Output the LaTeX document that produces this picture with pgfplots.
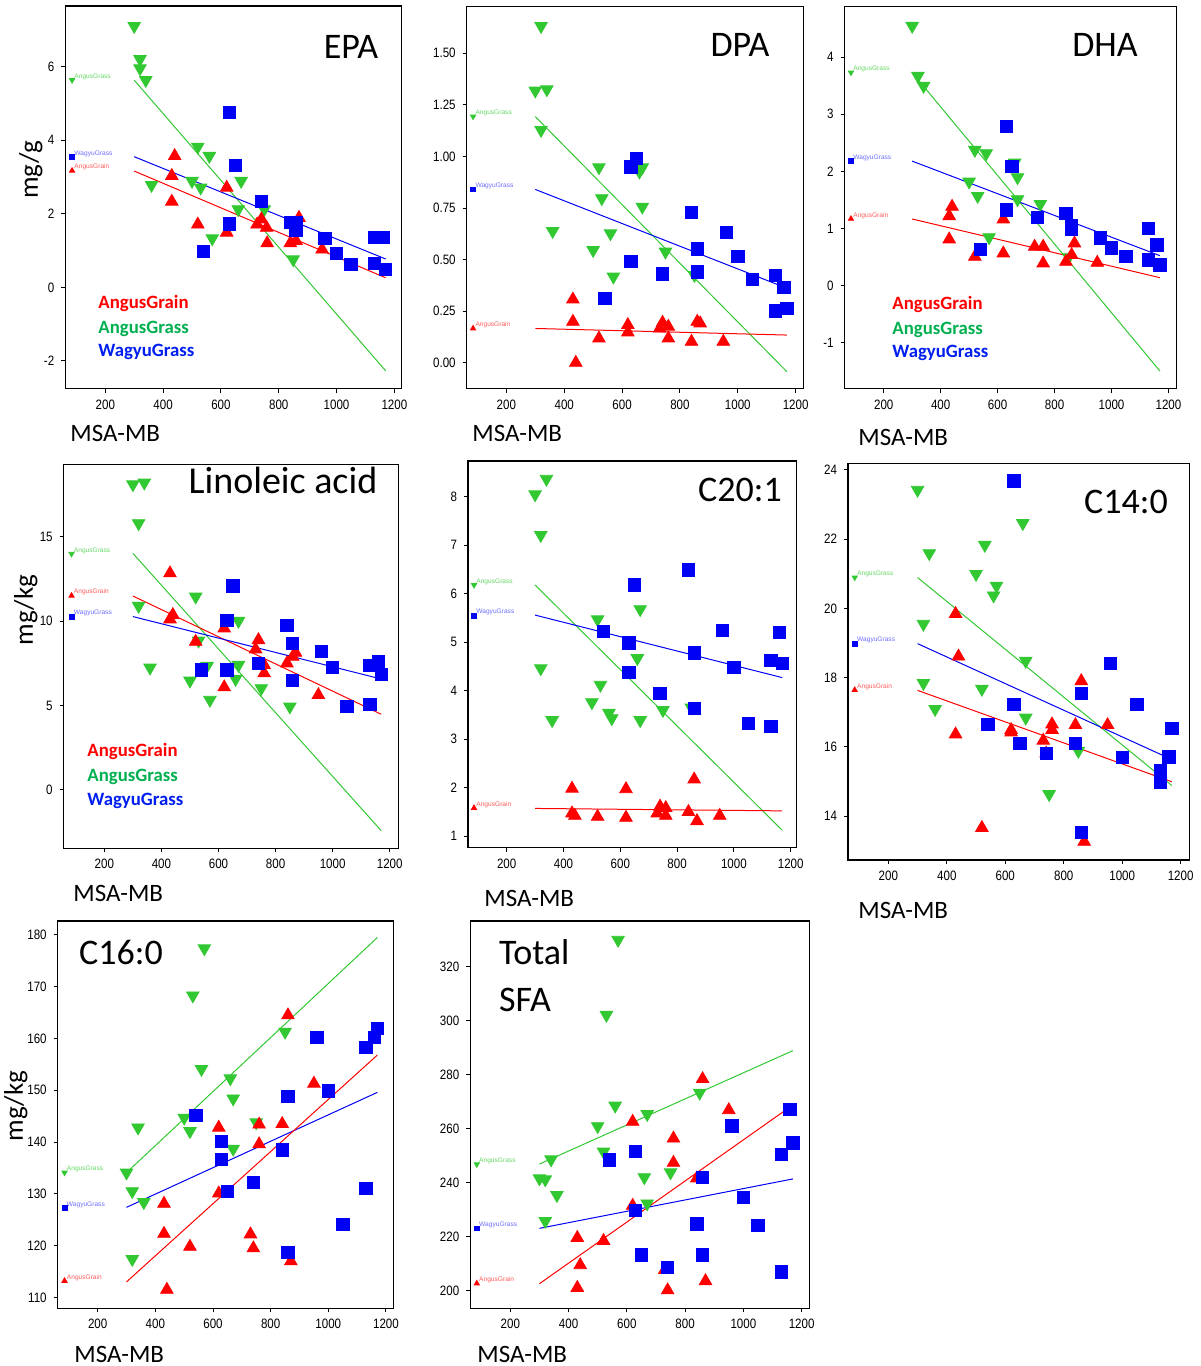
\documentclass[border=0pt]{standalone}
\usepackage{pgfplots}
\pgfplotsset{compat=1.18}
\usepackage{fontspec}
\setmainfont{Carlito}
\newfontfamily\tickfam{Liberation Sans}
\definecolor{mred}{RGB}{255,0,0}
\definecolor{mgreen}{RGB}{50,200,50}
\definecolor{mblue}{RGB}{0,0,245}
\definecolor{tgreen}{RGB}{0,176,80}
\definecolor{tblue}{RGB}{0,30,240}
\definecolor{sred}{RGB}{255,90,90}
\definecolor{sgreen}{RGB}{100,215,100}
\definecolor{sblue}{RGB}{110,110,255}
\pgfplotsset{
  panel/.style={
    scale only axis, anchor=south west,
    axis line style={line width=0.6pt},
    tick align=outside, xtick pos=bottom, ytick pos=left,
    major tick length=2pt,
    tick style={black, line width=0.5pt},
    ticklabel style={font=\tickfam\fontsize{6.8}{7}\selectfont},
    xticklabel={\scalebox{0.85}[1]{\pgfmathprintnumber{\tick}}},
    yticklabel={\scalebox{0.85}[1]{\pgfmathprintnumber{\tick}}},
    xtick={200,400,600,800,1000,1200},
    scaled ticks=false,
    /pgf/number format/assume math mode=true,
    /pgf/number format/1000 sep={},
    clip=false,
  },
  grain/.style={only marks, mark=triangle*, mark size=3.6pt, color=mred},
  grass/.style={only marks, mark=triangle*, mark size=3.6pt, color=mgreen, mark options={rotate=180}},
  wagyu/.style={only marks, mark=square*, mark size=3.1pt, color=mblue},
  lgrain/.style={no marks, color=mred, line width=0.5pt},
  lgrass/.style={no marks, color=mgreen, line width=0.5pt},
  lwagyu/.style={no marks, color=mblue, line width=0.5pt},
  sgrain/.style={only marks, mark=triangle*, mark size=1.5pt, color=mred},
  sgrass/.style={only marks, mark=triangle*, mark size=1.5pt, color=mgreen, mark options={rotate=180}},
  swagyu/.style={only marks, mark=square*, mark size=1.2pt, color=mblue},
}
\newcommand{\slab}[3]{\node[anchor=south west, inner sep=0pt, text=#2, font=\tickfam\fontsize{3.3}{3.5}\selectfont] at (axis cs:#1) {#3};}
\newcommand{\ttlf}{\fontsize{18}{20}\selectfont}
\newcommand{\xlf}{\fontsize{12.5}{14}\selectfont}
\newcommand{\ylf}{\fontsize{13.5}{16}\selectfont}
\newcommand{\lgf}{\fontsize{9.4}{10}\selectfont\bfseries}
\begin{document}
\begin{tikzpicture}
\useasboundingbox (0pt,0pt) rectangle (600pt,683pt);
% ---------------- EPA
\begin{axis}[panel, at={(32.65pt,488.65pt)}, width=168.2pt, height=191.35pt,
  xmin=61.6, xmax=1225.4, ymin=-2.754, ymax=7.645, ytick={-2,0,2,4,6}]
\addplot[grass] coordinates {(300,7.10)(320,6.20)(320,5.95)(340,5.63)(360,2.78)(500,2.89)(520,3.82)(530,2.71)(560,3.57)(570,1.33)(660,2.12)(670,2.89)(750,2.12)(850,0.76)};
\addplot[grain] coordinates {(440,3.57)(430,3.03)(430,2.33)(520,1.71)(620,2.71)(620,1.49)(725,1.71)(740,1.85)(758,1.62)(760,1.20)(840,1.20)(860,1.26)(870,1.89)(950,1.03)};
\addplot[wagyu] coordinates {(630,4.75)(650,3.32)(740,2.33)(630,1.72)(540,0.97)(840,1.76)(860,1.75)(860,1.56)(960,1.33)(1000,0.92)(1050,0.63)(1130,1.35)(1130,0.65)(1160,1.35)(1170,0.49)};
\addplot[lgrass] coordinates {(300,5.63)(1170,-2.27)};
\addplot[lwagyu] coordinates {(300,3.55)(1170,0.77)};
\addplot[lgrain] coordinates {(300,3.16)(1170,0.26)};
\addplot[sgrass] coordinates {(85,5.63)};
\addplot[swagyu] coordinates {(85,3.54)};
\addplot[sgrain] coordinates {(85,3.17)};
\slab{92,5.63}{sgreen}{AngusGrass}
\slab{92,3.54}{sblue}{WagyuGrass}
\slab{92,3.17}{sred}{AngusGrain}
\end{axis}
% ---------------- DPA
\begin{axis}[panel, at={(233.35pt,488.65pt)}, width=168.3pt, height=191pt,
  xmin=62.9, xmax=1226.5, ymin=-0.126, ymax=1.726, ytick={0,0.25,0.5,0.75,1,1.25,1.5},
  yticklabel style={/pgf/number format/fixed, /pgf/number format/fixed zerofill, /pgf/number format/precision=2}]
\addplot[grass] coordinates {(320,1.632)(300,1.319)(340,1.325)(320,1.128)(360,0.638)(520,0.947)(530,0.797)(500,0.546)(560,0.627)(570,0.417)(660,0.926)(670,0.947)(670,0.756)(750,0.538)(850,0.425)};
\addplot[grain] coordinates {(430,0.307)(430,0.199)(440,0.0)(520,0.118)(620,0.183)(620,0.147)(730,0.166)(740,0.194)(760,0.175)(760,0.118)(840,0.102)(860,0.199)(870,0.191)(950,0.102)};
\addplot[wagyu] coordinates {(630,0.950)(650,0.991)(840,0.730)(960,0.633)(860,0.551)(630,0.491)(740,0.431)(860,0.441)(540,0.312)(1000,0.514)(1050,0.404)(1130,0.423)(1160,0.365)(1130,0.252)(1170,0.262)};
\addplot[lgrass] coordinates {(300,1.193)(1170,-0.044)};
\addplot[lwagyu] coordinates {(300,0.840)(1141,0.377)};
\addplot[lgrain] coordinates {(300,0.166)(1170,0.134)};
\addplot[sgrass] coordinates {(85,1.193)};
\addplot[swagyu] coordinates {(85,0.840)};
\addplot[sgrain] coordinates {(85,0.166)};
\slab{92,1.193}{sgreen}{AngusGrass}
\slab{92,0.840}{sblue}{WagyuGrass}
\slab{92,0.166}{sred}{AngusGrain}
\end{axis}
% ---------------- DHA
\begin{axis}[panel, at={(422.35pt,488.65pt)}, width=166pt, height=191pt,
  xmin=63, xmax=1229, ymin=-1.803, ymax=4.883, ytick={-1,0,1,2,3,4}]
\addplot[grass] coordinates {(300,4.545)(320,3.670)(340,3.495)(520,2.375)(560,2.316)(500,1.820)(530,1.569)(660,2.153)(670,1.896)(670,1.511)(750,1.429)(570,0.846)(850,0.496)};
\addplot[grain] coordinates {(440,1.383)(430,1.219)(430,0.811)(520,0.508)(620,1.161)(620,0.566)(730,0.683)(760,0.683)(760,0.391)(840,0.420)(860,0.537)(870,0.741)(950,0.403)};
\addplot[wagyu] coordinates {(630,2.783)(650,2.083)(630,1.324)(540,0.636)(740,1.196)(840,1.266)(860,1.044)(860,0.98)(960,0.834)(1000,0.659)(1050,0.508)(1130,0.998)(1130,0.449)(1160,0.712)(1170,0.362)};
\addplot[lgrass] coordinates {(300,3.73)(1170,-1.494)};
\addplot[lwagyu] coordinates {(300,2.18)(1170,0.525)};
\addplot[lgrain] coordinates {(300,1.167)(1170,0.140)};
\addplot[sgrass] coordinates {(85,3.73)};
\addplot[swagyu] coordinates {(85,2.18)};
\addplot[sgrain] coordinates {(85,1.17)};
\slab{92,3.73}{sgreen}{AngusGrass}
\slab{92,2.18}{sblue}{WagyuGrass}
\slab{92,1.17}{sred}{AngusGrain}
\end{axis}
% ---------------- Linoleic
\begin{axis}[panel, at={(31.85pt,258.85pt)}, width=167.5pt, height=192pt,
  xmin=57.5, xmax=1231.5, ymin=-3.46, ymax=19.31, ytick={0,5,10,15}]
\addplot[grass] coordinates {(300,18.12)(340,18.22)(320,15.81)(320,10.91)(360,7.25)(520,11.46)(530,8.85)(500,6.48)(560,7.35)(570,5.34)(670,10.02)(670,7.41)(660,6.58)(750,6.03)(850,4.94)};
\addplot[grain] coordinates {(430,12.85)(430,10.12)(440,10.38)(520,8.79)(620,9.58)(620,6.09)(730,8.34)(740,8.89)(760,7.41)(760,6.92)(840,7.51)(870,8.14)(860,7.9)(950,5.63)};
\addplot[wagyu] coordinates {(650,12.11)(630,10.06)(540,7.11)(630,7.11)(740,7.51)(840,9.74)(860,8.68)(860,6.48)(960,8.20)(1000,7.27)(1050,4.94)(1130,7.37)(1160,7.61)(1170,6.86)(1130,5.08)};
\addplot[lgrass] coordinates {(300,14.03)(1170,-2.41)};
\addplot[lgrain] coordinates {(300,11.50)(1170,4.49)};
\addplot[lwagyu] coordinates {(300,10.28)(1170,6.58)};
\addplot[sgrass] coordinates {(85,14.0)};
\addplot[sgrain] coordinates {(85,11.52)};
\addplot[swagyu] coordinates {(85,10.28)};
\slab{92,14.0}{sgreen}{AngusGrass}
\slab{92,11.52}{sred}{AngusGrain}
\slab{92,10.28}{sblue}{WagyuGrass}
\end{axis}
% ---------------- C20:1
\begin{axis}[panel, at={(234pt,259.15pt)}, width=164.35pt, height=193.35pt,
  xmin=63.8, xmax=1221, ymin=0.76, ymax=8.74, ytick={1,2,3,4,5,6,7,8}]
\addplot[grass] coordinates {(340,8.37)(300,8.05)(320,7.21)(320,4.46)(360,3.39)(520,5.47)(530,4.12)(500,3.76)(560,3.54)(570,3.43)(670,5.68)(660,4.67)(670,3.39)(750,3.60)(850,3.65)};
\addplot[grain] coordinates {(430,1.98)(430,1.47)(440,1.42)(520,1.40)(620,1.97)(620,1.38)(730,1.47)(740,1.61)(760,1.58)(760,1.42)(840,1.50)(860,2.17)(870,1.31)(950,1.42)};
\addplot[wagyu] coordinates {(840,6.49)(650,6.18)(540,5.22)(630,4.99)(630,4.38)(740,3.94)(860,4.78)(860,3.63)(960,5.24)(1000,4.48)(1050,3.32)(1130,4.62)(1130,3.26)(1160,5.20)(1170,4.56)};
\addplot[lgrass] coordinates {(300,6.18)(1170,1.12)};
\addplot[lwagyu] coordinates {(300,5.56)(1170,4.27)};
\addplot[lgrain] coordinates {(300,1.57)(1170,1.52)};
\addplot[sgrass] coordinates {(85,6.18)};
\addplot[swagyu] coordinates {(85,5.55)};
\addplot[sgrain] coordinates {(85,1.58)};
\slab{92,6.18}{sgreen}{AngusGrass}
\slab{92,5.55}{sblue}{WagyuGrass}
\slab{92,1.58}{sred}{AngusGrain}
\end{axis}
% ---------------- C14:0
\begin{axis}[panel, at={(424pt,253pt)}, width=170.65pt, height=198.35pt,
  xmin=62, xmax=1229.6, ymin=12.73, ymax=24.19, ytick={14,16,18,20,22,24}]
\addplot[grass] coordinates {(300,23.42)(340,21.59)(530,21.83)(660,22.46)(500,20.99)(570,20.65)(560,20.37)(320,19.55)(320,17.84)(520,17.67)(360,17.09)(670,18.48)(670,16.84)(850,15.88)(750,14.63)};
\addplot[grain] coordinates {(430,19.84)(440,18.61)(430,16.36)(520,13.66)(620,16.49)(620,16.42)(730,16.18)(740,15.81)(760,16.65)(760,16.49)(840,16.63)(860,17.90)(870,13.26)(950,16.63)};
\addplot[wagyu] coordinates {(630,23.68)(630,17.23)(540,16.65)(650,16.10)(740,15.81)(840,16.10)(860,17.55)(860,13.52)(960,18.41)(1000,15.69)(1050,17.23)(1130,15.30)(1130,14.99)(1160,15.71)(1170,16.53)};
\addplot[lgrass] coordinates {(300,20.89)(1170,14.88)};
\addplot[lwagyu] coordinates {(300,18.98)(1150,15.71)};
\addplot[lgrain] coordinates {(300,17.63)(1170,14.99)};
\addplot[sgrass] coordinates {(85,20.89)};
\addplot[swagyu] coordinates {(85,18.98)};
\addplot[sgrain] coordinates {(85,17.64)};
\slab{92,20.89}{sgreen}{AngusGrass}
\slab{92,18.98}{sblue}{WagyuGrass}
\slab{92,17.64}{sred}{AngusGrain}
\end{axis}
% ---------------- C16:0
\begin{axis}[panel, at={(28.85pt,28.85pt)}, width=167.8pt, height=193.65pt,
  xmin=61.3, xmax=1225.4, ymin=107.9, ymax=182.7, ytick={110,120,130,140,150,160,170,180}]
\addplot[grass] coordinates {(570,177.4)(530,168.3)(560,154.1)(660,152.3)(850,161.3)(670,148.4)(500,144.7)(520,142.1)(750,143.8)(340,142.8)(670,138.7)(300,134.1)(320,130.5)(360,128.4)(320,117.4)};
\addplot[grain] coordinates {(860,164.5)(950,151.3)(620,142.8)(760,143.4)(840,143.5)(760,139.6)(620,130.1)(430,128.1)(430,122.3)(520,119.8)(730,122.2)(740,119.5)(870,117.0)(440,111.5)};
\addplot[wagyu] coordinates {(1170,162.0)(1160,160.2)(1130,158.3)(960,160.2)(540,145.2)(1000,149.9)(860,148.8)(630,140.1)(630,136.7)(840,138.5)(740,132.2)(650,130.5)(1130,131.1)(1050,124.1)(860,118.7)};
\addplot[lgrass] coordinates {(300,134.1)(1170,179.5)};
\addplot[lwagyu] coordinates {(300,127.4)(1170,149.6)};
\addplot[lgrain] coordinates {(300,113.0)(1170,156.8)};
\addplot[sgrass] coordinates {(85,134.1)};
\addplot[swagyu] coordinates {(85,127.3)};
\addplot[sgrain] coordinates {(85,113.2)};
\slab{92,134.1}{sgreen}{AngusGrass}
\slab{92,127.3}{sblue}{WagyuGrass}
\slab{92,113.2}{sred}{AngusGrain}
\end{axis}
% ---------------- Total SFA
\begin{axis}[panel, at={(235.15pt,28.85pt)}, width=169.5pt, height=193.65pt,
  xmin=62.7, xmax=1226.3, ymin=193.5, ymax=336.9, ytick={200,220,240,260,280,300,320}]
\addplot[grass] coordinates {(570,329.9)(530,302.1)(560,268.5)(500,260.9)(670,265.4)(520,251.5)(340,248.6)(850,273.3)(300,241.6)(320,241.2)(360,235.4)(660,242.0)(750,243.8)(670,232.3)(320,225.8)};
\addplot[grain] coordinates {(860,278.4)(950,266.9)(620,262.6)(760,256.4)(760,247.4)(840,241.6)(620,231.5)(430,219.6)(520,218.5)(440,209.5)(730,207.7)(430,201.1)(740,200.2)(870,203.6)};
\addplot[wagyu] coordinates {(1160,267.2)(960,261.0)(630,251.7)(1170,254.7)(1130,250.4)(540,248.4)(860,241.9)(630,229.8)(1000,234.6)(840,224.7)(1050,224.1)(650,213.2)(860,213.3)(740,208.6)(1130,207.0)};
\addplot[lgrass] coordinates {(300,246.9)(1170,288.9)};
\addplot[lwagyu] coordinates {(300,223.1)(1170,241.4)};
\addplot[lgrain] coordinates {(300,202.6)(1170,268.8)};
\addplot[sgrass] coordinates {(85,246.8)};
\addplot[swagyu] coordinates {(85,223.1)};
\addplot[sgrain] coordinates {(85,202.7)};
\slab{92,246.8}{sgreen}{AngusGrass}
\slab{92,223.1}{sblue}{WagyuGrass}
\slab{92,202.7}{sred}{AngusGrain}
\end{axis}
% ---------------- titles
\node[font=\ttlf] at (175.5pt,659.5pt) {EPA};
\node[font=\ttlf] at (370pt,660.5pt) {DPA};
\node[font=\ttlf] at (552.5pt,660.5pt) {DHA};
\node[font=\fontsize{19}{21}\selectfont] at (141.5pt,443pt) {Linoleic acid};
\node[font=\ttlf] at (370pt,438pt) {C20:1};
\node[font=\ttlf] at (563pt,432pt) {C14:0};
\node[font=\ttlf] at (60.5pt,207pt) {C16:0};
\node[font=\ttlf, anchor=west] at (246pt,207pt) {Total};
\node[font=\ttlf, anchor=west] at (246pt,183pt) {SFA};
% ---------------- x labels
\node[font=\xlf, anchor=west, inner sep=0pt] at (35pt,466.5pt) {MSA-MB};
\node[font=\xlf, anchor=west, inner sep=0pt] at (236pt,466.5pt) {MSA-MB};
\node[font=\xlf, anchor=west, inner sep=0pt] at (429pt,464.5pt) {MSA-MB};
\node[font=\xlf, anchor=west, inner sep=0pt] at (36.5pt,236.5pt) {MSA-MB};
\node[font=\xlf, anchor=west, inner sep=0pt] at (242pt,234pt) {MSA-MB};
\node[font=\xlf, anchor=west, inner sep=0pt] at (429pt,228pt) {MSA-MB};
\node[font=\xlf, anchor=west, inner sep=0pt] at (37pt,6pt) {MSA-MB};
\node[font=\xlf, anchor=west, inner sep=0pt] at (238.5pt,6pt) {MSA-MB};
% ---------------- y labels
\node[font=\ylf, rotate=90, anchor=base, inner sep=0pt] at (19pt,598pt) {mg/g};
\node[font=\ylf, rotate=90, anchor=base, inner sep=0pt] at (16.5pt,378pt) {mg/kg};
\node[font=\ylf, rotate=90, anchor=base, inner sep=0pt] at (11.5pt,130pt) {mg/kg};
% ---------------- legends
\node[font=\lgf, text=mred, anchor=west, inner sep=0pt] at (49pt,531pt) {AngusGrain};
\node[font=\lgf, text=tgreen, anchor=west, inner sep=0pt] at (49pt,518.5pt) {AngusGrass};
\node[font=\lgf, text=tblue, anchor=west, inner sep=0pt] at (49pt,507pt) {WagyuGrass};
\node[font=\lgf, text=mred, anchor=west, inner sep=0pt] at (446pt,530.5pt) {AngusGrain};
\node[font=\lgf, text=tgreen, anchor=west, inner sep=0pt] at (446pt,518pt) {AngusGrass};
\node[font=\lgf, text=tblue, anchor=west, inner sep=0pt] at (446pt,506.5pt) {WagyuGrass};
\node[font=\lgf, text=mred, anchor=west, inner sep=0pt] at (43.5pt,307pt) {AngusGrain};
\node[font=\lgf, text=tgreen, anchor=west, inner sep=0pt] at (43.5pt,294.5pt) {AngusGrass};
\node[font=\lgf, text=tblue, anchor=west, inner sep=0pt] at (43.5pt,282.5pt) {WagyuGrass};
\end{tikzpicture}
\end{document}
